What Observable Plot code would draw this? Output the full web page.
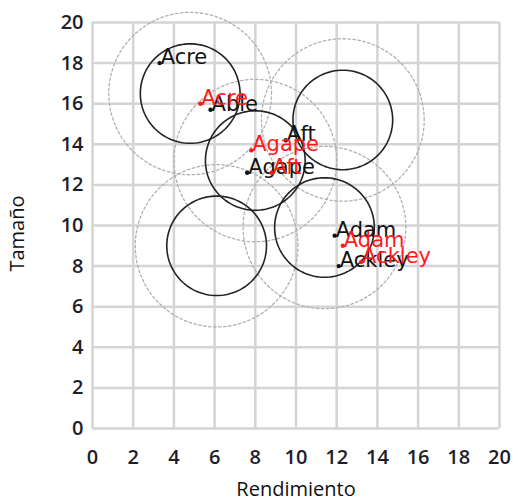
<!DOCTYPE html>
<html>
<head>
<meta charset="utf-8">
<script src="https://cdn.jsdelivr.net/npm/d3@7"></script>
<script src="https://cdn.jsdelivr.net/npm/@observablehq/plot@0.6"></script>
<style>
  html, body { margin: 0; padding: 0; background: #fff; }
</style>
</head>
<body>
<div id="chart"></div>
<script>
// Tick values
const xTicks = [0, 2, 4, 6, 8, 10, 12, 14, 16, 18, 20];
const yTicks = [0, 2, 4, 6, 8, 10, 12, 14, 16, 18, 20];

// Black points (original)
const blackNames = ["Acre", "Able", "Agape", "Aft", "Adam", "Ackley"];
const blackX = [3.3, 5.8, 7.6, 9.5, 11.9, 12.1];
const blackY = [18.0, 15.7, 12.6, 14.2, 9.5, 8.0];

// Red points (new)
const redNames = ["Acre", "Agape", "Aft", "Adam", "Ackley"];
const redX = [5.3, 7.8, 8.8, 12.3, 13.2];
const redY = [16.0, 13.7, 12.6, 9.0, 8.2];

// Cluster centres and radii (data units)
const clusterX = [4.8, 8.0, 12.3, 6.1, 11.4];
const clusterY = [16.5, 13.2, 15.2, 9.0, 9.9];
const innerRadius = 2.45;
const outerRadius = 4.0;

const black = blackNames.map((n, i) => ({name: n, x: blackX[i], y: blackY[i]}));
const red = redNames.map((n, i) => ({name: n, x: redX[i], y: redY[i]}));

function ring(cx, cy, r, id) {
  return d3.range(0, 120).map(i => {
    const t = (i / 120) * 2 * Math.PI;
    return {id, x: cx + r * Math.cos(t), y: cy + r * Math.sin(t)};
  });
}
const innerRings = clusterX.flatMap((cx, i) => ring(cx, clusterY[i], innerRadius, i));
const outerRings = clusterX.flatMap((cx, i) => ring(cx, clusterY[i], outerRadius, i));

const labelFont = "DejaVu Sans";

const chart = Plot.plot({
  width: 519,
  height: 500,
  marginLeft: 92,
  marginRight: 20,
  marginTop: 22,
  marginBottom: 72,
  style: {fontFamily: "Open Sans", fontSize: "20px", color: "#1e1e2a", background: "#fff"},
  x: {domain: [0, 20]},
  y: {domain: [0, 20]},
  marks: [
    Plot.gridX(xTicks, {stroke: "#d4d4d4", strokeOpacity: 1, strokeWidth: 2.5}),
    Plot.gridY(yTicks, {stroke: "#d4d4d4", strokeOpacity: 1, strokeWidth: 2.5}),
    Plot.axisX(xTicks, {tickSize: 0, tickPadding: 21, fontWeight: 600, label: null}),
    Plot.axisY(yTicks, {tickSize: 0, tickPadding: 9, fontWeight: 600, label: null}),
    Plot.line(outerRings, {x: "x", y: "y", z: "id", curve: "linear-closed", stroke: "#b0b0b0", strokeWidth: 1.3, strokeDasharray: "2.5,2.5"}),
    Plot.line(innerRings, {x: "x", y: "y", z: "id", curve: "linear-closed", stroke: "#222", strokeWidth: 1.6}),
    Plot.dot(black, {x: "x", y: "y", r: 2.2, fill: "#111", stroke: null}),
    Plot.text(black, {x: "x", y: "y", text: "name", textAnchor: "start", lineAnchor: "bottom", dx: 1, dy: 1, fontSize: 21, fontFamily: labelFont, fill: "#111"}),
    Plot.dot(red, {x: "x", y: "y", r: 2.2, fill: "#ff1a1a", stroke: null}),
    Plot.text(red, {x: "x", y: "y", text: "name", textAnchor: "start", lineAnchor: "bottom", dx: 1, dy: 1, fontSize: 21, fontFamily: labelFont, fill: "#ff1a1a"}),
    Plot.text(["Rendimiento"], {frameAnchor: "bottom", text: d => d, lineAnchor: "bottom", dy: 67, fontSize: 20, fontFamily: "Open Sans", fill: "#111"}),
    Plot.text(["Tamaño"], {frameAnchor: "left", text: d => d, rotate: -90, textAnchor: "middle", lineAnchor: "top", dx: -83, dy: 8, fontSize: 20, fontFamily: "Open Sans", fill: "#111"})
  ]
});
document.getElementById("chart").appendChild(chart);
</script>
</body>
</html>
